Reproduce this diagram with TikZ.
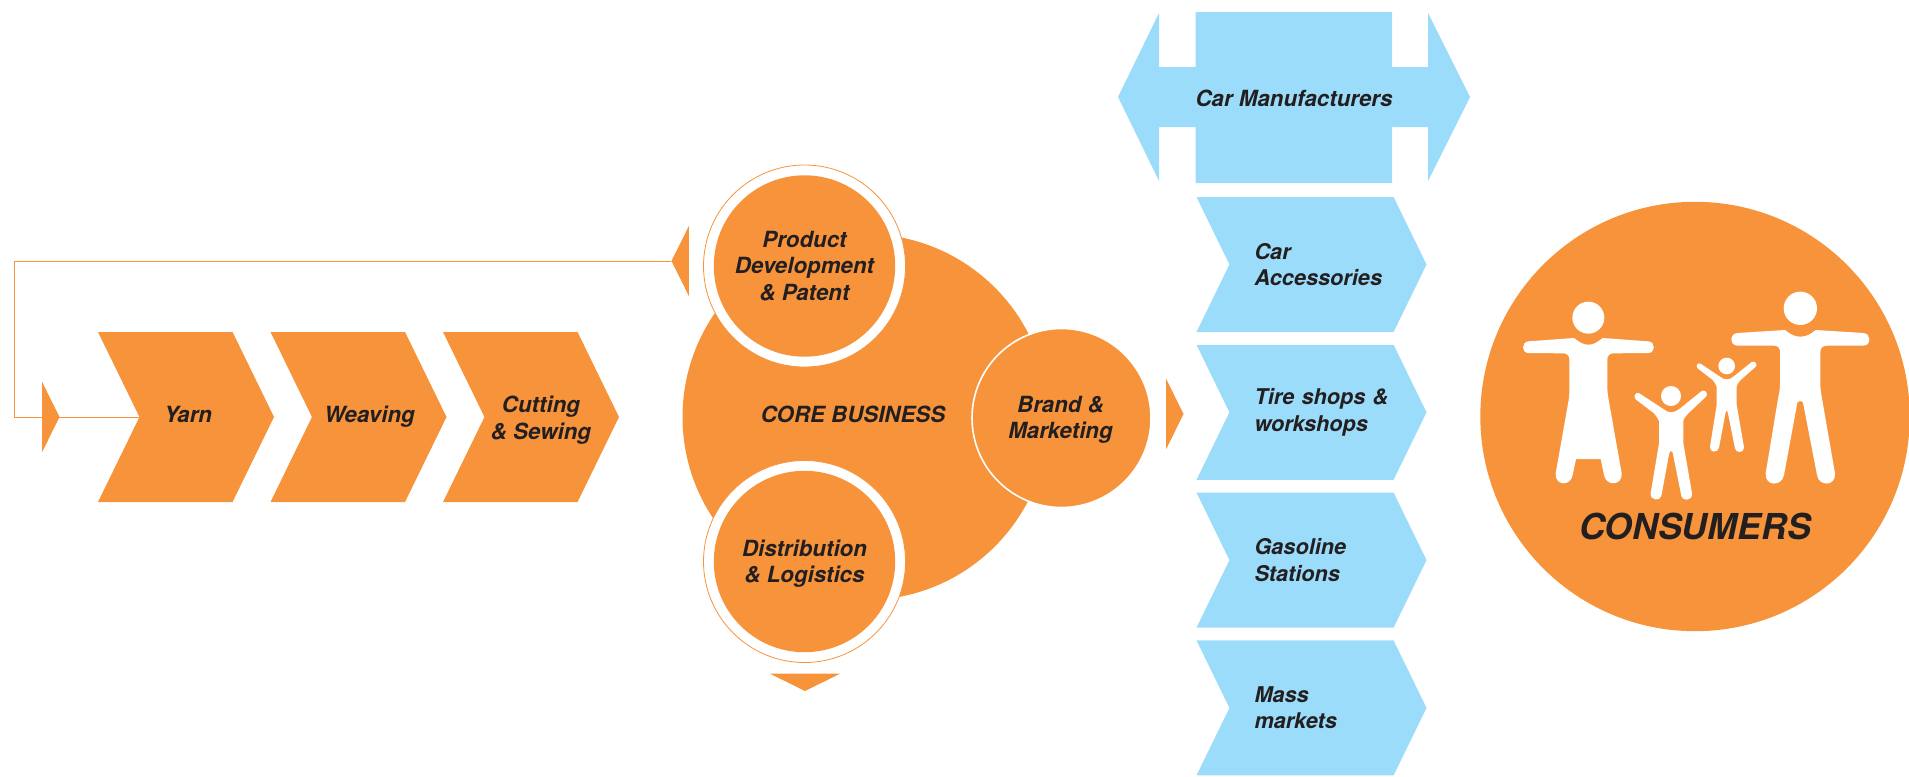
\documentclass[tikz,border=0pt]{standalone}
\usepackage{fontspec}
\setmainfont{TeX Gyre Heros}
\usepackage{tikz}
\usetikzlibrary{positioning}
\usetikzlibrary{shapes.symbols,shapes.geometric}
\definecolor{coreorange}{HTML}{F7943B}
\definecolor{skyblue}{HTML}{9CDCFB}
\definecolor{inktext}{HTML}{231F20}
\newcommand{\movedlbl}[3]{\raisebox{#2}[0pt][0pt]{\makebox[0pt]{\hspace*{#1}\begin{tabular}{@{}c@{}}#3\end{tabular}}}}
\tikzset{
  lbl/.style={text=inktext,font=\fontsize{11.15}{13.1}\selectfont\bfseries\itshape,align=center,inner sep=0pt},
  chevron/.style={signal,signal to=east,signal from=west,signal pointer angle=128,lbl,minimum height=85pt,minimum width=88pt},
  orange chevron/.style={chevron,fill=coreorange},
  blue chevron/.style={chevron,fill=skyblue,minimum height=67.5pt,minimum width=115pt,text width=57pt,align=left,font=\fontsize{10.85}{13.1}\selectfont\bfseries\itshape},
  disc/.style={circle,fill=coreorange,lbl},
  ring/.style={circle,fill=white,draw=coreorange,line width=0.4pt,minimum size=101pt,inner sep=0pt},
  tip node/.style={isosceles triangle,isosceles triangle apex angle=128,isosceles triangle stretches,fill=coreorange,inner sep=0pt,minimum height=8.7pt,minimum width=35pt,anchor=apex}
}
\begin{document}
\begin{tikzpicture}[x=0.5pt,y=-0.5pt]
  \useasboundingbox (0,0) rectangle (1909,776);

  % supply chain
  \node[orange chevron] (yarn) at (186,417) {\movedlbl{2pt}{-2.8pt}{Yarn}};
  \node[orange chevron] (weaving) at (358.5,417) {\movedlbl{11pt}{-2.8pt}{Weaving}};
  \node[orange chevron] (cutting) at (531,417) {\movedlbl{10pt}{-4.6pt}{Cutting\\\& Sewing}};

  % core business
  \node[disc,minimum size=183pt] (core) at (865.5,417) {\movedlbl{-12.5pt}{-2.8pt}{CORE BUSINESS}};
  \node[ring] (product_ring) at (804.5,266) {};
  \node[disc,minimum size=90.7pt] (product) at (product_ring) {Product\\Development\\\& Patent};
  \node[ring] (distribution_ring) at (804.5,561.5) {};
  \node[disc,minimum size=90.7pt] (distribution) at (distribution_ring) {\movedlbl{0pt}{-4pt}{Distribution\\\& Logistics}};
  \node[disc,draw=white,line width=0.8pt,minimum size=89.5pt] (brand) at (1061.5,418) {\movedlbl{-1pt}{-4pt}{Brand \&\\Marketing}};

  % small arrow heads
  \node[tip node,shape border rotate=180] (tip_back) at (671,261) {};
  \node[tip node] (tip_loop) at (60,417) {};
  \node[tip node] (tip_out) at (1184,414) {};
  \node[tip node,shape border rotate=270] (tip_down) at (805,691.5) {};

  \coordinate (loop_corner) at (14,417);
  \draw[coreorange,line width=0.5pt] (tip_back.apex) -| (loop_corner) -- (yarn.west);

  % car manufacturers
  \fill[skyblue] (1195.5,12) -- (1392,12) -- (1392,67) -- (1428,67) -- (1428,13) -- (1470,97)
    -- (1428,181) -- (1428,127) -- (1392,127) -- (1392,183) -- (1195.5,183) -- (1195.5,127)
    -- (1159,127) -- (1159,181) -- (1118,97) -- (1159,13) -- (1159,67) -- (1195.5,67) -- cycle;
  \node[lbl] (manufacturers) at (1294,98) {Car Manufacturers};

  % sales channels
  \node[blue chevron] (accessories) at (1311.5,264.5) {Car\\Accessories};
  \node[blue chevron,below=6pt of accessories] (tire) {\mbox{Tire shops \&}\\workshops};
  \node[blue chevron,below=6pt of tire] (gasoline) {Gasoline\\Stations};
  \node[blue chevron,below=6pt of gasoline] (mass) {Mass\\markets};

  % consumers
  \node[circle,fill=coreorange,minimum size=214.7pt,inner sep=0pt] (consumers) at (1695,416.5) {};
  \node[lbl,font=\fontsize{17.85}{20}\selectfont\bfseries\itshape] (consumers_lbl) at (1695,526) {CONSUMERS};

  \begin{scope}[shift={(1470,260)},scale=1/3]
    % woman
    \fill[white] (355,173) circle (48);
    \fill[white] (175,244) -- (312,234) .. controls (330,248) and (340,254) .. (355,254)
      .. controls (370,254) and (380,248) .. (398,234) -- (535,244)
      .. controls (558,246) and (556,279) .. (535,279) -- (430,280)
      .. controls (418,280) and (412,288) .. (412,298) -- (412,380)
      .. controls (412,395) and (414,410) .. (416,420) -- (455,640)
      .. controls (458,678) and (408,680) .. (402,645) -- (392,597) -- (318,597) -- (308,645)
      .. controls (302,680) and (254,678) .. (257,640) -- (296,420)
      .. controls (298,410) and (298,395) .. (298,380) -- (298,298)
      .. controls (298,288) and (292,280) .. (280,280) -- (175,279)
      .. controls (154,279) and (154,246) .. (175,244) -- cycle;
    % man
    \fill[white] (991,145) circle (50);
    \fill[white] (803,219) -- (945,210) .. controls (960,222) and (972,230) .. (991,230)
      .. controls (1010,230) and (1022,222) .. (1037,210) -- (1180,219)
      .. controls (1204,220) and (1204,257) .. (1180,257) -- (1070,257)
      .. controls (1058,257) and (1051,265) .. (1051,275) -- (1051,370)
      .. controls (1051,385) and (1053,400) .. (1055,410) -- (1095,640)
      .. controls (1098,680) and (1046,680) .. (1041,645) -- (999,428)
      .. controls (997,422) and (985,422) .. (982,428) -- (942,645)
      .. controls (936,680) and (884,680) .. (887,640) -- (925,410)
      .. controls (928,400) and (930,385) .. (930,370) -- (930,275)
      .. controls (930,265) and (924,257) .. (912,257) -- (803,257)
      .. controls (778,257) and (778,220) .. (803,219) -- cycle;
    % first child
    \fill[white] (603,408) circle (30);
    \fill[white] (508,400) -- (580,447) .. controls (588,453) and (595,457) .. (603,457)
      .. controls (611,457) and (620,453) .. (628,447) -- (695,393)
      .. controls (706,387) and (716,402) .. (708,410) -- (655,460)
      .. controls (648,468) and (640,476) .. (640,483) -- (640,550) -- (666,700)
      .. controls (668,724) and (636,724) .. (634,708) -- (608,578)
      .. controls (606,571) and (600,571) .. (598,578) -- (574,708)
      .. controls (570,724) and (540,722) .. (542,700) -- (567,550) -- (567,483)
      .. controls (565,476) and (558,468) .. (552,460) -- (497,418)
      .. controls (488,408) and (498,394) .. (508,400) -- cycle;
    % second child
    \fill[white] (770,318) circle (25);
    \fill[white] (693,312) -- (750,350) .. controls (756,355) and (763,358) .. (770,358)
      .. controls (777,358) and (784,355) .. (790,350) -- (845,306)
      .. controls (854,301) and (864,313) .. (857,320) -- (812,360)
      .. controls (806,366) and (800,374) .. (800,380) -- (800,435) -- (822,562)
      .. controls (823,580) and (797,580) .. (795,565) -- (773,456)
      .. controls (772,451) and (768,451) .. (767,456) -- (747,563)
      .. controls (744,580) and (717,578) .. (720,560) -- (740,435) -- (740,380)
      .. controls (738,374) and (733,366) .. (728,360) -- (683,325)
      .. controls (675,316) and (684,306) .. (693,312) -- cycle;
  \end{scope}
\end{tikzpicture}
\end{document}
